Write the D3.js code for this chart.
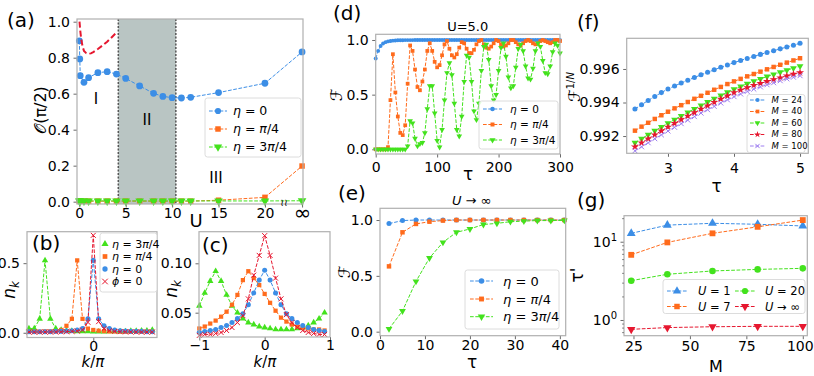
<!DOCTYPE html>
<html>
<head>
<meta charset="utf-8">
<script src="https://cdn.jsdelivr.net/npm/d3@7"></script>
<style>
  body { margin: 0; background: #fff; }
  svg text { font-family: "DejaVu Sans", sans-serif; }
</style>
</head>
<body>
<svg id="fig" width="814" height="376"></svg>
<script>
// colours
const blue = "#3c8ee6", orange = "#ff6b1c", green = "#43e21d", red = "#e6172f", purple = "#9e7ef0";

// ---- (a) order parameter vs U ----
const U_INF = 24;   // column used for U = ∞
const aU = [0, 0.05, 0.1, 0.5, 1, 2, 3, 4, 5, 6.5, 8, 9, 10, 11, 12, 15, 20, U_INF];
const aEta0 = [0.894, 0.793, 0.700, 0.663, 0.689, 0.717, 0.722, 0.709, 0.685, 0.643, 0.602, 0.585, 0.578, 0.576, 0.580, 0.606, 0.658, 0.832];
const aEtaPi4 = [0.003, 0.003, 0.003, 0.003, 0.003, 0.003, 0.003, 0.003, 0.003, 0.003, 0.003, 0.003, 0.003, 0.003, 0.003, 0.008, 0.024, 0.198];
const aEta3Pi4 = [0.004, 0.004, 0.004, 0.004, 0.004, 0.004, 0.004, 0.004, 0.004, 0.004, 0.004, 0.004, 0.004, 0.004, 0.004, 0.004, 0.004, 0.005];
const aRefU = [0.02, 0.1, 0.2, 0.35, 0.5, 0.75, 1.0, 1.25, 1.5, 2.0, 2.5, 3.0, 3.5, 4.0];
const aRef = [1.0, 0.95, 0.905, 0.862, 0.838, 0.825, 0.822, 0.824, 0.831, 0.848, 0.868, 0.889, 0.914, 0.940];
const aPhaseII = [4.2, 10.4];

// ---- (b), (c) momentum distribution ----
const kGrid = [-1, -0.917, -0.833, -0.75, -0.667, -0.583, -0.5, -0.417, -0.333, -0.25, -0.167, -0.083,
               0, 0.083, 0.167, 0.25, 0.333, 0.417, 0.5, 0.583, 0.667, 0.75, 0.833, 0.917];
const bEta3Pi4 = [0.03, 0.03, 0.10, 0.52, 0.10, 0.03, 0.02, 0.015, 0.012, 0.01, 0.01, 0.01, 0.008, 0.008, 0.008, 0.01, 0.01, 0.01, 0.01, 0.012, 0.012, 0.015, 0.015, 0.02];
const bEtaPi4 = [0.008, 0.008, 0.008, 0.01, 0.01, 0.012, 0.02, 0.05, 0.10, 0.52, 0.10, 0.03, 0.02, 0.015, 0.012, 0.01, 0.01, 0.008, 0.008, 0.008, 0.008, 0.008, 0.008, 0.008];
const bEta0 = [0.008, 0.008, 0.008, 0.008, 0.008, 0.01, 0.01, 0.012, 0.015, 0.02, 0.03, 0.10, 0.52, 0.10, 0.05, 0.03, 0.02, 0.015, 0.012, 0.01, 0.01, 0.01, 0.008, 0.008];
const bPhi0 = [0.005, 0.005, 0.005, 0.005, 0.006, 0.006, 0.007, 0.008, 0.01, 0.012, 0.02, 0.075, 0.70, 0.08, 0.03, 0.015, 0.01, 0.008, 0.007, 0.006, 0.006, 0.005, 0.005, 0.005];

const cEta3Pi4 = [0.057, 0.070, 0.082, 0.092, 0.082, 0.068, 0.057, 0.050, 0.044, 0.040, 0.038, 0.036, 0.035, 0.034, 0.033, 0.033, 0.033, 0.033, 0.034, 0.035, 0.037, 0.040, 0.044, 0.050];
const cEtaPi4 = [0.034, 0.036, 0.039, 0.042, 0.046, 0.051, 0.058, 0.068, 0.083, 0.092, 0.085, 0.078, 0.069, 0.060, 0.052, 0.045, 0.041, 0.038, 0.036, 0.035, 0.034, 0.033, 0.033, 0.032];
const cEta0 = [0.030, 0.031, 0.032, 0.033, 0.035, 0.037, 0.040, 0.044, 0.049, 0.058, 0.070, 0.083, 0.093, 0.083, 0.070, 0.058, 0.049, 0.044, 0.040, 0.037, 0.035, 0.033, 0.032, 0.031];
const cPhi0 = [0.027, 0.028, 0.028, 0.029, 0.030, 0.032, 0.035, 0.040, 0.047, 0.064, 0.088, 0.108, 0.128, 0.108, 0.085, 0.064, 0.048, 0.040, 0.035, 0.032, 0.030, 0.029, 0.028, 0.028];

// ---- (d) fidelity vs tau, U = 5 ----
const dTau = d3.range(0, 301, 4);
const dEta0 = [0.83, 0.90, 0.945, 0.968, 0.98, 0.987, 0.991, 0.994, 0.996, 0.997,
  0.998, 0.998, 0.999, 0.999, 0.999, 0.999, 1, 1, 1, 1,
  1, 1, 1, 1, 1, 1, 1, 1, 1, 1,  1, 1, 1, 1, 1, 1, 1, 1, 1, 1,
  1, 1, 1, 1, 1, 1, 1, 1, 1, 1,  1, 1, 1, 1, 1, 1, 1, 1, 1, 1,
  1, 1, 1, 1, 1, 1, 1, 1, 1, 1,  1, 1, 1, 1, 1, 1];
const dEtaPi4 = [0, 0, 0, 0, 0, 0.02, 0.45, 0.87, 0.52, 0.30,
  0.15, 0.13, 0.22, 0.60, 0.95, 0.90, 0.73, 0.57, 0.54, 0.62,
  0.73, 0.90, 0.97, 0.90, 0.80, 0.75, 0.77, 0.86, 0.96, 0.99,
  0.92, 0.86, 0.84, 0.87, 0.93, 0.98, 0.97, 0.92, 0.88, 0.88,
  0.91, 0.96, 0.99, 1.0, 0.96, 0.93, 0.92, 0.94, 0.97, 1.0,
  0.99, 0.96, 0.94, 0.95, 0.97, 1.0, 1.0, 0.98, 0.96, 0.95,
  0.97, 0.99, 1.0, 0.99, 0.97, 0.96, 0.97, 0.99, 1.0, 0.99,
  0.98, 0.97, 0.98, 1.0, 1.0, 0.99];
const dEta3Pi4 = [0, 0, 0, 0, 0, 0, 0, 0, 0, 0,
  0, 0, 0, 0.03, 0.26, 0.24, 0.10, 0.03, 0.05, 0.06,
  0.15, 0.37, 0.58, 0.58, 0.33, 0.08, 0.02, 0.18, 0.45, 0.70,
  0.79, 0.68, 0.42, 0.18, 0.12, 0.30, 0.62, 0.86, 0.84, 0.62,
  0.35, 0.27, 0.42, 0.72, 0.94, 0.96, 0.82, 0.58, 0.45, 0.50,
  0.72, 0.93, 0.97, 0.85, 0.66, 0.56, 0.58, 0.75, 0.92, 0.96,
  0.90, 0.76, 0.65, 0.64, 0.74, 0.90, 0.97, 0.94, 0.81, 0.70,
  0.69, 0.76, 0.89, 0.97, 0.95, 0.88];

// ---- (e) fidelity vs tau, U -> inf ----
const eTau = [2, 5, 8, 11, 14, 17, 20, 23, 26, 29, 32, 35, 38, 41];
const eEta0 = [0.968, 0.995, 1.0, 1.0, 1.0, 1.0, 1.0, 1.0, 1.0, 1.0, 1.0, 1.0, 1.0, 1.0];
const eEtaPi4 = [0.585, 0.89, 0.965, 0.985, 0.995, 1.0, 1.0, 1.0, 1.0, 1.0, 1.0, 1.0, 1.0, 1.0];
const eEta3Pi4 = [0.025, 0.185, 0.45, 0.66, 0.80, 0.89, 0.92, 0.96, 0.97, 0.985, 0.99, 0.995, 0.995, 0.997];

// ---- (f) F^(1/N) vs tau for several M ----
const fTau = [2.5, 2.6, 2.7, 2.8, 2.9, 3.0, 3.1, 3.2, 3.3, 3.4, 3.5, 3.6, 3.7, 3.8, 3.9,
              4.0, 4.1, 4.2, 4.3, 4.4, 4.5, 4.6, 4.7, 4.8, 4.9, 5.0];
const fM24 = [0.99361, 0.99387, 0.99412, 0.99436, 0.99459, 0.99481, 0.99499, 0.99516, 0.99533, 0.99549, 0.99565, 0.99580, 0.99595,
  0.99610, 0.99624, 0.99638, 0.99651, 0.99663, 0.99675, 0.99687, 0.99698, 0.99709, 0.99720, 0.99731, 0.99742, 0.99753];
const fM40 = [0.99232, 0.99256, 0.99279, 0.99302, 0.99324, 0.99345, 0.99365, 0.99384, 0.99403, 0.99422, 0.99440, 0.99458, 0.99476,
  0.99493, 0.99510, 0.99526, 0.99541, 0.99556, 0.99570, 0.99584, 0.99598, 0.99612, 0.99625, 0.99638, 0.99651, 0.99664];
const fM60 = [0.99160, 0.99184, 0.99208, 0.99231, 0.99254, 0.99276, 0.99298, 0.99320, 0.99341, 0.99362, 0.99383, 0.99403, 0.99423,
  0.99442, 0.99461, 0.99479, 0.99496, 0.99512, 0.99527, 0.99541, 0.99555, 0.99568, 0.99581, 0.99593, 0.99605, 0.99617];
const fM80 = [0.99136, 0.99160, 0.99184, 0.99208, 0.99231, 0.99254, 0.99276, 0.99298, 0.99319, 0.99340, 0.99361, 0.99381, 0.99401,
  0.99421, 0.99440, 0.99459, 0.99475, 0.99489, 0.99502, 0.99514, 0.99526, 0.99537, 0.99548, 0.99559, 0.99569, 0.99578];
const fM100 = [0.99112, 0.99136, 0.99160, 0.99184, 0.99207, 0.99230, 0.99252, 0.99274, 0.99295, 0.99316, 0.99337, 0.99357, 0.99377,
  0.99397, 0.99416, 0.99435, 0.99451, 0.99466, 0.99480, 0.99493, 0.99506, 0.99518, 0.99530, 0.99541, 0.99551, 0.99560];

// ---- (g) tau' vs M ----
const gM = [24, 40, 60, 80, 100];
const gU1 = [12.8, 16.3, 17.2, 16.7, 15.9];
const gU7 = [6.8, 9.8, 12.8, 15.5, 18.9];
const gU20 = [3.18, 3.84, 4.23, 4.43, 4.57];
const gUinf = [0.76, 0.80, 0.82, 0.83, 0.83];

const svg = d3.select("#fig");
const FONT = "DejaVu Sans";
const SYM = { o: d3.symbolCircle, s: d3.symbolSquare, "^": d3.symbolTriangle, v: d3.symbolTriangle,
              "*": d3.symbolStar, x: d3.symbolTimes || d3.symbolX };

function makeAxes(o) {
  const g = svg.append("g");
  const x = d3.scaleLinear().domain(o.xd).range([o.x0, o.x1]);
  const y = (o.log ? d3.scaleLog() : d3.scaleLinear()).domain(o.yd).range([o.y1, o.y0]);
  g.append("rect").attr("x", o.x0).attr("y", o.y0).attr("width", o.x1 - o.x0).attr("height", o.y1 - o.y0).attr("fill", "#fff");
  const ax = g.append("g").attr("transform", `translate(0,${o.y1})`)
      .call(d3.axisBottom(x).tickValues(o.xt).tickFormat(o.xf).tickSize(3.5).tickPadding(o.xpad));
  const ay = g.append("g").attr("transform", `translate(${o.x0},0)`)
      .call(d3.axisLeft(y).tickValues(o.yt).tickFormat(o.yf).tickSize(3.5).tickPadding(3.5));
  for (const a of [ax, ay]) {
    a.select(".domain").remove();
    a.selectAll(".tick line").attr("stroke", "#444").attr("stroke-width", 0.8);
    a.selectAll(".tick text").attr("font-family", FONT).attr("font-size", 14).attr("fill", "#000");
  }
  const plot = g.append("g");
  g.append("rect").attr("x", o.x0).attr("y", o.y0).attr("width", o.x1 - o.x0).attr("height", o.y1 - o.y0)
    .attr("fill", "none").attr("stroke", "#b0b0b0").attr("stroke-width", 1.2);
  const top = g.append("g");
  return { g, ax, ay, plot, top, x, y };
}

function symbolPath(sel, shape, size, color) {
  sel.attr("d", d3.symbol(SYM[shape], size))
    .attr("fill", shape === "x" ? "none" : color)
    .attr("stroke", shape === "x" ? color : "none")
    .attr("stroke-width", 1);
}

function series(p, xs, ys, color, shape, size, noLine) {
  if (!noLine) {
    p.plot.append("path").datum(ys)
      .attr("d", d3.line().x((d, i) => p.x(xs[i])).y(d => p.y(d)))
      .attr("fill", "none").attr("stroke", color).attr("stroke-width", 1).attr("stroke-dasharray", "3.7,1.6");
  }
  p.plot.selectAll(null).data(ys).join("path")
    .attr("transform", (d, i) => `translate(${p.x(xs[i])},${p.y(d)})` + (shape === "v" ? " rotate(180)" : ""))
    .call(symbolPath, shape, size, color);
}

function math(sel, s) {
  for (const m of s.matchAll(/([A-Za-zηπϕτ]+)|([^A-Za-zηπϕτ]+)/g)) {
    sel.append("tspan").text(m[0]).attr("font-style", m[1] ? "italic" : null);
  }
  return sel;
}

function label(x, y, s, size, opt = {}) {
  const t = svg.append("text").attr("x", x).attr("y", y).attr("font-size", size)
    .attr("text-anchor", opt.anchor || "middle").attr("fill", "#000");
  if (opt.family) t.attr("font-family", opt.family);
  if (opt.rotate) t.attr("transform", `rotate(-90,${x},${y})`).attr("dominant-baseline", "central");
  if (opt.math) math(t, s); else t.text(s);
  return t;
}

// legend: rows = [{label, c, s, col, row}], st = {lx, len, tx, ys, fs, ms, noLine}
function legend(p, box, rows, st) {
  const L = p.top.append("g");
  L.append("rect").attr("x", box[0]).attr("y", box[1]).attr("width", box[2]).attr("height", box[3]).attr("rx", 2.5)
    .attr("fill", "#fff").attr("fill-opacity", 0.85).attr("stroke", "#d3d3d3").attr("stroke-width", 0.8);
  for (const r of rows) {
    const x0 = st.lx[r.col || 0], yy = st.ys[r.row];
    if (!st.noLine) {
      L.append("line").attr("x1", x0).attr("x2", x0 + st.len).attr("y1", yy).attr("y2", yy)
        .attr("stroke", r.c).attr("stroke-width", 1).attr("stroke-dasharray", "3.7,1.6");
    }
    L.append("path").attr("transform", `translate(${x0 + st.len / 2},${yy})` + (r.s === "v" ? " rotate(180)" : ""))
      .call(symbolPath, r.s, st.ms, r.c);
    math(L.append("text").attr("x", st.tx[r.col || 0]).attr("y", yy).attr("dy", "0.35em")
      .attr("font-size", st.fs).attr("fill", "#000"), r.label);
  }
}

// ================= (a) =================
const pa = makeAxes({ x0: 77, x1: 303, y0: 19, y1: 204, xd: [-0.25, 24.1], yd: [-0.013, 1.015], xpad: 1,
  xt: [0, 5, 10, 15, 20, U_INF], xf: d => d === U_INF ? "∞" : d,
  yt: [0, 0.2, 0.4, 0.6, 0.8, 1.0], yf: d3.format(".1f") });
pa.ax.selectAll(".tick text").filter(d => d === U_INF).attr("font-size", 21).attr("dy", "0.55em");
pa.plot.append("rect").attr("x", pa.x(aPhaseII[0])).attr("y", 19).attr("width", pa.x(aPhaseII[1]) - pa.x(aPhaseII[0]))
  .attr("height", 185).attr("fill", "#b9c5c3");
for (const u of aPhaseII) {
  pa.plot.append("line").attr("x1", pa.x(u)).attr("x2", pa.x(u)).attr("y1", 19).attr("y2", 204)
    .attr("stroke", "#555").attr("stroke-width", 1.5).attr("stroke-dasharray", "2,1.5");
}
series(pa, aU, aEta0, blue, "o", 36);
series(pa, aU, aEtaPi4, orange, "s", 30);
series(pa, aU, aEta3Pi4, green, "v", 32);
pa.plot.append("path").datum(aRef)
  .attr("d", d3.line().x((d, i) => pa.x(aRefU[i])).y(d => pa.y(d)))
  .attr("fill", "none").attr("stroke", red).attr("stroke-width", 2).attr("stroke-dasharray", "6,3");
legend(pa, [205, 98, 96, 59], [
  { label: "η = 0", c: blue, s: "o", row: 0 },
  { label: "η = π/4", c: orange, s: "s", row: 1 },
  { label: "η = 3π/4", c: green, s: "v", row: 2 }],
  { lx: [209], len: 18, tx: [233], ys: [111, 129, 147], fs: 12.5, ms: 30 });
label(96, 104, "I", 15, { family: "Liberation Serif" });
label(147, 125, "II", 15, { family: "Liberation Serif" });
label(216, 183, "III", 15, { family: "Liberation Serif" });
label(284, 206, "≀≀", 10);
label(196, 227, "U", 18);
label(40, 110, "𝒪(π/2)", 16, { rotate: true });
label(7, 27, "(a)", 20, { anchor: "start" });

// ================= (b) =================
const pb = makeAxes({ x0: 27, x1: 157, y0: 231.7, y1: 337.5, xd: [-1.03, 0.99], yd: [-0.034, 0.726], xpad: 0,
  xt: [0], xf: d3.format("d"), yt: [0, 0.5], yf: d3.format(".1f") });
series(pb, kGrid, bEta3Pi4, green, "^", 18);
series(pb, kGrid, bEtaPi4, orange, "s", 18);
series(pb, kGrid, bEta0, blue, "o", 20);
series(pb, kGrid, bPhi0, red, "x", 18);
legend(pb, [100, 233, 57, 59], [
  { label: "η = 3π/4", c: green, s: "^", row: 0 },
  { label: "η = π/4", c: orange, s: "s", row: 1 },
  { label: "η = 0", c: blue, s: "o", row: 2 },
  { label: "ϕ = 0", c: red, s: "x", row: 3 }],
  { lx: [101], len: 8, tx: [112], ys: [244, 256.5, 269, 281.5], fs: 11, ms: 22, noLine: true });
label(93, 367, "k/π", 15, { math: true });
math(svg.append("text").attr("transform", "translate(15,290) rotate(-90)").attr("text-anchor", "middle")
  .attr("font-size", 17), "n").append("tspan").attr("font-size", 12).attr("dy", 4).attr("font-style", "italic").text("k");
label(32, 250, "(b)", 20, { anchor: "start" });

// ================= (c) =================
const pc = makeAxes({ x0: 199, x1: 330, y0: 231.7, y1: 337, xd: [-1.005, 1.0], yd: [0.0254, 0.132], xpad: 0,
  xt: [-1, 0, 1], xf: d3.format("d"), yt: [0.05, 0.10], yf: d3.format(".2f") });
series(pc, kGrid, cEta3Pi4, green, "^", 18);
series(pc, kGrid, cEtaPi4, orange, "s", 18);
series(pc, kGrid, cEta0, blue, "o", 20);
series(pc, kGrid, cPhi0, red, "x", 18);
label(265, 367, "k/π", 15, { math: true });
math(svg.append("text").attr("transform", "translate(177,289) rotate(-90)").attr("text-anchor", "middle")
  .attr("font-size", 17), "n").append("tspan").attr("font-size", 12).attr("dy", 4).attr("font-style", "italic").text("k");
label(202, 252, "(c)", 20, { anchor: "start" });

// ================= (d) =================
const pd = makeAxes({ x0: 375.7, x1: 560, y0: 34.3, y1: 154, xd: [0, 300], yd: [-0.043, 1.052], xpad: 4.5,
  xt: [0, 100, 200, 300], xf: d3.format("d"), yt: [0, 0.5, 1.0], yf: d3.format(".1f") });
series(pd, dTau, dEta0, blue, "o", 12);
series(pd, dTau, dEtaPi4, orange, "s", 14);
series(pd, dTau, dEta3Pi4, green, "v", 14);
legend(pd, [479, 101, 79, 48], [
  { label: "η = 0", c: blue, s: "o", row: 0 },
  { label: "η = π/4", c: orange, s: "s", row: 1 },
  { label: "η = 3π/4", c: green, s: "v", row: 2 }],
  { lx: [483], len: 19, tx: [510], ys: [109, 124.5, 140], fs: 10.5, ms: 16 });
label(467.7, 31, "U=5.0", 13);
label(468, 180, "τ", 17);
label(336, 95, "ℱ", 16, { rotate: true });
label(333, 20, "(d)", 20, { anchor: "start" });

// ================= (e) =================
const pe = makeAxes({ x0: 380, x1: 565.7, y0: 208.3, y1: 335.7, xd: [0, 41.3], yd: [-0.036, 1.105], xpad: 1,
  xt: [0, 10, 20, 30, 40], xf: d3.format("d"), yt: [0, 0.5, 1.0], yf: d3.format(".1f") });
series(pe, eTau, eEta0, blue, "o", 20);
series(pe, eTau, eEtaPi4, orange, "s", 20);
series(pe, eTau, eEta3Pi4, green, "v", 20);
legend(pe, [465, 270, 94, 59], [
  { label: "η = 0", c: blue, s: "o", row: 0 },
  { label: "η = π/4", c: orange, s: "s", row: 1 },
  { label: "η = 3π/4", c: green, s: "v", row: 2 }],
  { lx: [470], len: 23, tx: [503], ys: [281, 299, 316.7], fs: 13, ms: 24 });
label(471.7, 205, "U → ∞", 13, { math: true });
label(472, 368, "τ", 17);
label(344, 272, "ℱ", 16, { rotate: true });
label(338, 200, "(e)", 20, { anchor: "start" });

// ================= (f) =================
const pf = makeAxes({ x0: 626.7, x1: 808.3, y0: 38.3, y1: 153.3, xd: [2.375, 5.125], yd: [0.99097, 0.99783], xpad: 6,
  xt: [3, 4, 5], xf: d3.format("d"), yt: [0.992, 0.994, 0.996], yf: d3.format(".3f") });
series(pf, fTau, fM24, blue, "o", 20);
series(pf, fTau, fM40, orange, "s", 20);
series(pf, fTau, fM60, green, "v", 20);
series(pf, fTau, fM80, red, "*", 20);
series(pf, fTau, fM100, purple, "x", 18);
legend(pf, [747, 94.5, 58, 58], [
  { label: "M = 24", c: blue, s: "o", row: 0 },
  { label: "M = 40", c: orange, s: "s", row: 1 },
  { label: "M = 60", c: green, s: "v", row: 2 },
  { label: "M = 80", c: red, s: "*", row: 3 },
  { label: "M = 100", c: purple, s: "x", row: 4 }],
  { lx: [750], len: 15, tx: [771.5], ys: [100, 111.5, 123, 134.5, 146], fs: 8.5, ms: 14 });
label(716.7, 192, "τ", 17);
const fy = svg.append("text").attr("transform", "translate(580,87) rotate(-90)").attr("text-anchor", "middle").attr("font-size", 16);
fy.append("tspan").text("ℱ");
math(fy.append("tspan").attr("font-size", 10).attr("dy", -6), "1/N");
label(577, 29, "(f)", 20, { anchor: "start" });

// ================= (g) =================
const pg = makeAxes({ x0: 624, x1: 807.3, y0: 215.7, y1: 335.7, xd: [20.8, 102], yd: [0.63, 21.5], log: true, xpad: 2,
  xt: [25, 50, 75, 100], xf: d3.format("d"), yt: [1, 10], yf: () => "" });
pg.ax.selectAll(".tick text").filter(d => d === 100).attr("dx", -3);
pg.ay.selectAll(".tick text").each(function (d) {
  const t = d3.select(this);
  t.append("tspan").text("10");
  t.append("tspan").attr("font-size", 10).attr("dy", -6).text(Math.round(Math.log10(d)));
});
pg.g.append("g").attr("transform", "translate(624,0)")
  .call(d3.axisLeft(pg.y).tickValues([0.7, 0.8, 0.9, 2, 3, 4, 5, 6, 7, 8, 9, 20]).tickFormat("").tickSize(2))
  .call(a => { a.select(".domain").remove(); a.selectAll("line").attr("stroke", "#444").attr("stroke-width", 0.6); });
series(pg, gM, gU1, blue, "^", 34);
series(pg, gM, gU7, orange, "s", 34);
series(pg, gM, gU20, green, "o", 34);
series(pg, gM, gUinf, red, "v", 30);
legend(pg, [663, 279.5, 142, 34], [
  { label: "U = 1", c: blue, s: "^", col: 0, row: 0 },
  { label: "U = 7", c: orange, s: "s", col: 0, row: 1 },
  { label: "U = 20", c: green, s: "o", col: 1, row: 0 },
  { label: "U → ∞", c: red, s: "v", col: 1, row: 1 }],
  { lx: [667, 735], len: 20, tx: [698, 765], ys: [291, 306.5], fs: 11.5, ms: 30 });
label(716, 372, "M", 16);
const gy = svg.append("text").attr("transform", "translate(583,275) rotate(-90)").attr("text-anchor", "middle").attr("font-size", 17);
gy.append("tspan").text("τ'");
label(577, 207, "(g)", 20, { anchor: "start" });
</script>
</body>
</html>
